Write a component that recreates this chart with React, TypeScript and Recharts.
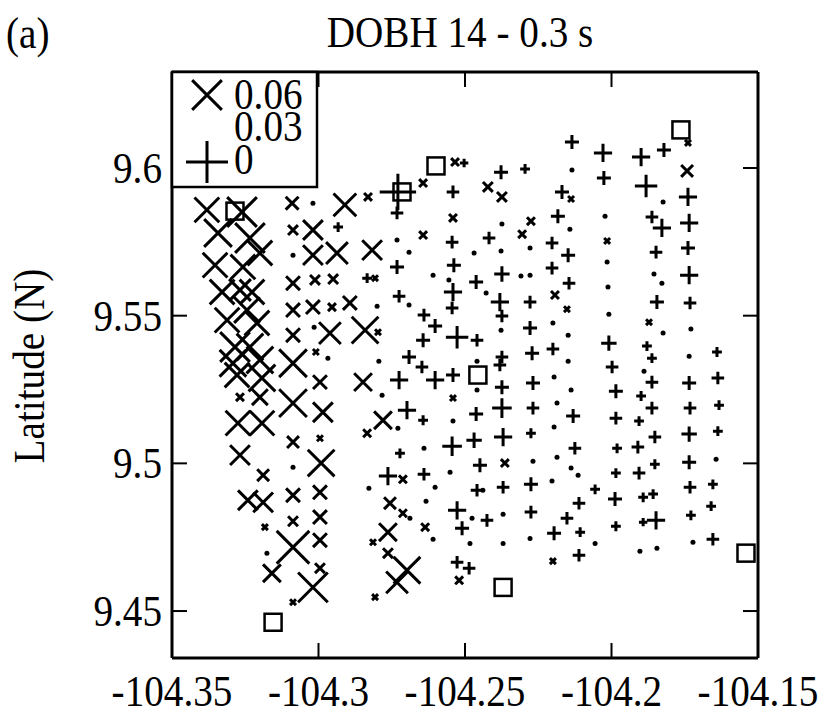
import { ScatterChart, Scatter, XAxis, YAxis } from "recharts";

document.body.style.margin = "0";

// [longitude, latitude, anomaly] ; anomaly 0.03 is the zero-size level
type Pt = [number, number, number];

const lonTicks = [-104.35, -104.3, -104.25, -104.2, -104.15];
const latTicks = [9.45, 9.5, 9.55, 9.6];
const legendValues = [0.06, 0.03, 0];

const lineA: Pt[] = [
  [-104.3381, 9.5858, 0.055], [-104.3261, 9.5851, 0.06], [-104.3343, 9.578, 0.058],
  [-104.3234, 9.5763, 0.06], [-104.3353, 9.5671, 0.055], [-104.3258, 9.5665, 0.055],
  [-104.32, 9.5712, 0.055], [-104.3329, 9.558, 0.055], [-104.3268, 9.5587, 0.052],
  [-104.3227, 9.558, 0.055], [-104.3312, 9.5485, 0.055], [-104.3244, 9.5519, 0.056],
  [-104.321, 9.5475, 0.055], [-104.3285, 9.5394, 0.06], [-104.3234, 9.5394, 0.057],
  [-104.3292, 9.5339, 0.057], [-104.32, 9.535, 0.057], [-104.3278, 9.5299, 0.055],
  [-104.3193, 9.5289, 0.057], [-104.3268, 9.5224, 0.038], [-104.32, 9.5224, 0.046],
  [-104.3275, 9.5136, 0.055], [-104.3193, 9.5136, 0.055], [-104.3268, 9.5028, 0.05],
  [-104.3189, 9.496, 0.042], [-104.3241, 9.4875, 0.05], [-104.3189, 9.4868, 0.05],
  [-104.3183, 9.4784, 0.036], [-104.3176, 9.4696, 0.031], [-104.3159, 9.4628, 0.048],
];

const lineB: Pt[] = [
  [-104.309, 9.5881, 0.043], [-104.3087, 9.579, 0.04], [-104.3087, 9.5705, 0.03],
  [-104.3087, 9.561, 0.044], [-104.3087, 9.5519, 0.044], [-104.3087, 9.5434, 0.044],
  [-104.3087, 9.5339, 0.058], [-104.3087, 9.5204, 0.058], [-104.3087, 9.5072, 0.042],
  [-104.3087, 9.4987, 0.031], [-104.3087, 9.4892, 0.044], [-104.3087, 9.4804, 0.04],
  [-104.3087, 9.4716, 0.063], [-104.3087, 9.453, 0.036],
];

const lineC: Pt[] = [
  [-104.3019, 9.5881, 0.03], [-104.3019, 9.579, 0.05], [-104.3019, 9.5705, 0.05],
  [-104.3012, 9.5621, 0.04], [-104.3019, 9.5529, 0.044], [-104.3015, 9.5461, 0.031],
  [-104.3009, 9.5377, 0.036], [-104.2995, 9.5275, 0.044], [-104.2985, 9.5173, 0.05],
  [-104.2995, 9.5085, 0.036], [-104.2991, 9.5001, 0.057], [-104.2995, 9.4902, 0.044],
  [-104.2995, 9.4818, 0.044], [-104.2995, 9.474, 0.044], [-104.2995, 9.4645, 0.04],
  [-104.3019, 9.458, 0.06],
];

const lineD: Pt[] = [
  [-104.291, 9.5875, 0.053], [-104.2933, 9.58, 0.023], [-104.2937, 9.5712, 0.052],
  [-104.295, 9.5624, 0.04], [-104.2954, 9.5529, 0.038], [-104.2893, 9.5543, 0.044],
  [-104.2961, 9.5441, 0.052], [-104.2968, 9.5356, 0.03],
];

const lineE: Pt[] = [
  [-104.2831, 9.5902, 0.038], [-104.2817, 9.5722, 0.05], [-104.2834, 9.5627, 0.023],
  [-104.2807, 9.5627, 0.036], [-104.28, 9.5532, 0.03], [-104.2841, 9.5451, 0.057],
  [-104.2797, 9.5444, 0.036], [-104.2794, 9.5346, 0.03], [-104.2848, 9.5275, 0.048],
  [-104.2783, 9.5231, 0.03], [-104.278, 9.5146, 0.048], [-104.2834, 9.5102, 0.038],
  [-104.2828, 9.4916, 0.03], [-104.2814, 9.4733, 0.036], [-104.2807, 9.4547, 0.036],
];

const lineF: Pt[] = [
  [-104.2729, 9.5919, 0.004], [-104.2732, 9.5848, 0.021], [-104.2732, 9.5756, 0.03],
  [-104.2691, 9.5715, 0.03], [-104.2732, 9.5665, 0.02], [-104.2725, 9.5566, 0.021],
  [-104.2691, 9.5536, 0.03], [-104.2691, 9.536, 0.02], [-104.2725, 9.5282, 0.017],
  [-104.2698, 9.518, 0.017], [-104.2729, 9.5119, 0.03], [-104.2722, 9.5034, 0.023],
  [-104.2763, 9.4957, 0.017], [-104.2712, 9.4946, 0.038], [-104.2756, 9.4865, 0.042],
  [-104.2712, 9.4831, 0.038], [-104.2688, 9.4814, 0.03], [-104.2763, 9.4767, 0.048],
  [-104.2763, 9.4696, 0.04], [-104.2698, 9.4638, 0.057], [-104.2732, 9.4597, 0.052],
];

const lineG: Pt[] = [
  [-104.2643, 9.5949, 0.038], [-104.2643, 9.5773, 0.038], [-104.2609, 9.5637, 0.03],
  [-104.264, 9.5502, 0.021], [-104.2602, 9.5465, 0.02], [-104.2643, 9.5417, 0.02],
  [-104.2647, 9.5326, 0.021], [-104.2602, 9.5282, 0.017], [-104.2643, 9.5146, 0.023],
  [-104.264, 9.5051, 0.03], [-104.264, 9.4963, 0.021], [-104.2602, 9.4919, 0.03],
  [-104.2633, 9.4872, 0.03], [-104.2636, 9.4784, 0.038], [-104.2609, 9.4743, 0.03],
];

const lineH: Pt[] = [
  [-104.2534, 9.602, 0.038], [-104.2503, 9.6017, 0.024], [-104.2541, 9.5919, 0.021],
  [-104.2541, 9.5831, 0.038], [-104.2544, 9.5749, 0.021], [-104.2538, 9.5671, 0.02],
  [-104.2555, 9.5621, 0.03], [-104.2541, 9.558, 0.017], [-104.2544, 9.5526, 0.021],
  [-104.2527, 9.5427, 0.014], [-104.2541, 9.5299, 0.02], [-104.2541, 9.5221, 0.036],
  [-104.2541, 9.5143, 0.03], [-104.2544, 9.5058, 0.016], [-104.2551, 9.497, 0.03],
  [-104.2527, 9.4841, 0.017], [-104.251, 9.478, 0.02], [-104.2483, 9.4729, 0.031],
  [-104.2527, 9.4665, 0.021], [-104.2486, 9.4645, 0.021], [-104.252, 9.4604, 0.038],
];

const lineI: Pt[] = [
  [-104.2422, 9.5936, 0.04], [-104.2418, 9.5763, 0.021], [-104.2469, 9.5712, 0.03],
  [-104.2462, 9.5614, 0.02], [-104.2428, 9.5577, 0.03], [-104.2459, 9.5417, 0.021],
  [-104.2459, 9.5346, 0.03], [-104.2459, 9.5248, 0.03], [-104.2462, 9.5167, 0.02],
  [-104.2469, 9.5078, 0.019], [-104.2449, 9.4994, 0.02], [-104.2459, 9.4909, 0.021],
  [-104.2439, 9.4909, 0.03], [-104.2476, 9.4814, 0.03], [-104.2425, 9.4807, 0.021],
];

const lineJ: Pt[] = [
  [-104.2377, 9.5986, 0.02], [-104.2374, 9.5902, 0.04], [-104.2374, 9.581, 0.03],
  [-104.2377, 9.5719, 0.03], [-104.2374, 9.5641, 0.019], [-104.2381, 9.5546, 0.017],
  [-104.2374, 9.5499, 0.021], [-104.2377, 9.5451, 0.03], [-104.2374, 9.536, 0.021],
  [-104.2381, 9.5333, 0.021], [-104.2374, 9.5258, 0.02], [-104.2374, 9.5187, 0.016],
  [-104.237, 9.5089, 0.017], [-104.2364, 9.5001, 0.038], [-104.237, 9.4919, 0.021],
  [-104.237, 9.4828, 0.03], [-104.237, 9.4729, 0.03],
];

const lineK: Pt[] = [
  [-104.2295, 9.5997, 0.023], [-104.2275, 9.582, 0.038], [-104.2305, 9.5776, 0.038],
  [-104.2278, 9.5729, 0.03], [-104.2309, 9.5634, 0.03], [-104.2278, 9.5637, 0.03],
  [-104.2278, 9.5546, 0.021], [-104.2278, 9.5458, 0.02], [-104.2271, 9.5373, 0.02],
  [-104.2268, 9.5272, 0.02], [-104.2268, 9.5187, 0.021], [-104.2275, 9.5102, 0.023],
  [-104.2268, 9.5007, 0.03], [-104.2275, 9.4929, 0.02], [-104.2275, 9.4835, 0.021],
  [-104.2278, 9.4746, 0.03],
];

const lineL: Pt[] = [
  [-104.2135, 9.6088, 0.02], [-104.2135, 9.5993, 0.03], [-104.2169, 9.5919, 0.02],
  [-104.2138, 9.5895, 0.036], [-104.2183, 9.5837, 0.02], [-104.2142, 9.5793, 0.03],
  [-104.2203, 9.5746, 0.021], [-104.2148, 9.5705, 0.02], [-104.2203, 9.5661, 0.021],
  [-104.2145, 9.561, 0.021], [-104.2193, 9.557, 0.038], [-104.2152, 9.5522, 0.036],
  [-104.22, 9.5475, 0.03], [-104.2148, 9.5434, 0.03], [-104.22, 9.5387, 0.021],
  [-104.2148, 9.5346, 0.03], [-104.2196, 9.5292, 0.03], [-104.2138, 9.5248, 0.03],
  [-104.2186, 9.5204, 0.03], [-104.2131, 9.516, 0.02], [-104.2196, 9.5123, 0.03],
  [-104.2125, 9.5051, 0.021], [-104.2186, 9.5021, 0.03], [-104.2138, 9.4984, 0.03],
  [-104.2114, 9.496, 0.03], [-104.2203, 9.494, 0.031], [-104.2111, 9.4865, 0.021],
  [-104.2152, 9.4814, 0.021], [-104.2196, 9.4763, 0.02], [-104.2107, 9.4767, 0.023],
  [-104.22, 9.4669, 0.036], [-104.2111, 9.4689, 0.021],
];

const lineM: Pt[] = [
  [-104.2029, 9.6051, 0.017], [-104.2026, 9.5966, 0.02], [-104.2022, 9.5837, 0.03],
  [-104.2015, 9.5753, 0.036], [-104.2015, 9.5682, 0.03], [-104.2012, 9.5597, 0.03],
  [-104.2009, 9.5505, 0.03], [-104.2009, 9.5407, 0.019], [-104.1998, 9.5326, 0.021],
  [-104.1985, 9.5244, 0.02], [-104.1985, 9.5153, 0.021], [-104.1981, 9.5051, 0.023],
  [-104.1985, 9.4967, 0.023], [-104.2056, 9.4912, 0.023], [-104.1988, 9.4879, 0.02],
  [-104.1985, 9.4787, 0.023], [-104.2056, 9.4729, 0.03],
];

const lineN: Pt[] = [
  [-104.1899, 9.6037, 0.017], [-104.1821, 9.6061, 0.02], [-104.1882, 9.5939, 0.014],
  [-104.1824, 9.5885, 0.03], [-104.1862, 9.5834, 0.021], [-104.1828, 9.5797, 0.017],
  [-104.1848, 9.5715, 0.021], [-104.1855, 9.5641, 0.03], [-104.1828, 9.561, 0.03],
  [-104.1845, 9.5546, 0.02], [-104.1872, 9.5478, 0.036], [-104.1824, 9.5441, 0.03],
  [-104.1879, 9.5397, 0.023], [-104.1862, 9.5356, 0.023], [-104.1889, 9.5312, 0.03],
  [-104.1862, 9.5275, 0.021], [-104.1899, 9.5228, 0.023], [-104.1862, 9.5187, 0.021],
  [-104.1906, 9.5143, 0.023], [-104.1852, 9.5089, 0.021], [-104.191, 9.5055, 0.021],
  [-104.1852, 9.4997, 0.023], [-104.1906, 9.4967, 0.021], [-104.1858, 9.4896, 0.023],
  [-104.1892, 9.4885, 0.023], [-104.1848, 9.4807, 0.017], [-104.1892, 9.4801, 0.024],
  [-104.1903, 9.4702, 0.03], [-104.1845, 9.4713, 0.03],
];

const lineO: Pt[] = [
  [-104.1739, 9.6085, 0.036], [-104.1742, 9.599, 0.042], [-104.1739, 9.5902, 0.017],
  [-104.1735, 9.5814, 0.017], [-104.1739, 9.5729, 0.02], [-104.1735, 9.5637, 0.017],
  [-104.1732, 9.5543, 0.021], [-104.1729, 9.5455, 0.03], [-104.1735, 9.5363, 0.03],
  [-104.1735, 9.5272, 0.02], [-104.1732, 9.5187, 0.021], [-104.1735, 9.5099, 0.019],
  [-104.1735, 9.5004, 0.02], [-104.1732, 9.4919, 0.021], [-104.1729, 9.4824, 0.023],
  [-104.1722, 9.4733, 0.03],
];

const lineP: Pt[] = [
  [-104.164, 9.5377, 0.023], [-104.1637, 9.5289, 0.021], [-104.1633, 9.5197, 0.023],
  [-104.1637, 9.5109, 0.023], [-104.1643, 9.5014, 0.03], [-104.1654, 9.4929, 0.023],
  [-104.166, 9.4855, 0.023], [-104.1654, 9.4743, 0.021],
];

// stations (open squares)
const stationLon = [-104.3285, -104.2715, -104.2599, -104.2456, -104.1763, -104.3155, -104.237, -104.1541];
const stationLat = [9.5854, 9.5919, 9.6007, 9.5299, 9.6129, 9.4462, 9.458, 9.4696];

const points = [
  ...lineA, ...lineB, ...lineC, ...lineD, ...lineE, ...lineF, ...lineG, ...lineH,
  ...lineI, ...lineJ, ...lineK, ...lineL, ...lineM, ...lineN, ...lineO, ...lineP,
].map(([lon, lat, val]) => ({ lon, lat, val }));

const stations = stationLon.map((lon, i) => ({ lon, lat: stationLat[i] }));

const FONT = '"Liberation Serif", "Times New Roman", serif';
const REF = 0.03;
const ARM = 1400; // px of arm length per unit of |val - REF|
const SW = 3;

const markerPath = (cx: number, cy: number, val: number) => {
  const d = val - REF;
  const len = Math.abs(d) * ARM;
  if (d > 0) {
    const h = len / 2 / Math.SQRT2;
    return `M${cx - h},${cy - h}L${cx + h},${cy + h}M${cx - h},${cy + h}L${cx + h},${cy - h}`;
  }
  const h = len / 2;
  return `M${cx - h},${cy}L${cx + h},${cy}M${cx},${cy - h}L${cx},${cy + h}`;
};

const Marker = (props: any) => {
  const { cx, cy, payload } = props;
  if (Math.abs(payload.val - REF) * ARM < 5) {
    return <circle cx={cx} cy={cy} r={2.5} fill="#000" />;
  }
  return <path d={markerPath(cx, cy, payload.val)} stroke="#000" strokeWidth={SW} fill="none" />;
};

const Station = (props: any) => {
  const { cx, cy } = props;
  return <rect x={cx - 8.5} y={cy - 8.5} width={17} height={17} fill="none" stroke="#000" strokeWidth={2.5} />;
};

// the figure's serif type is a little taller than it is wide
const Label = ({ x, y, anchor = "start", rotate = 0, children }: any) => (
  <text
    x={0} y={0} textAnchor={anchor} fontFamily={FONT} fontSize={40} fill="#000"
    transform={`translate(${x} ${y}) rotate(${rotate}) scale(0.98 1.1)`}
  >
    {children}
  </text>
);

const TICK = 15;

const BottomTick = ({ x, y, payload }: any) => (
  <g>
    <line x1={x} x2={x} y1={y} y2={y - TICK} stroke="#000" strokeWidth={2} />
    <Label x={x} y={y + 48} anchor="middle">{String(payload.value)}</Label>
  </g>
);
const TopTick = ({ x, y }: any) => (
  <line x1={x} x2={x} y1={y} y2={y + TICK} stroke="#000" strokeWidth={2} />
);
const LeftTick = ({ x, y, payload }: any) => (
  <g>
    <line x1={x} x2={x + TICK} y1={y} y2={y} stroke="#000" strokeWidth={2} />
    <Label x={x - 10} y={y + 15} anchor="end">{String(payload.value)}</Label>
  </g>
);
const RightTick = ({ x, y }: any) => (
  <line x1={x} x2={x - TICK} y1={y} y2={y} stroke="#000" strokeWidth={2} />
);

export default function App() {
  const axisLine = { stroke: "#000", strokeWidth: 3 };
  return (
    <div style={{ position: "relative", width: 831, height: 715, background: "#fff" }}>
      <ScatterChart width={831} height={715} margin={{ top: 62, right: 63, bottom: 7, left: 72 }}>
        <XAxis
          type="number" dataKey="lon" domain={[-104.35, -104.15]} ticks={lonTicks}
          allowDataOverflow interval={0} height={50} tickSize={0} tickMargin={0}
          tickLine={false} axisLine={axisLine} tick={(p: any) => <BottomTick {...p} />}
        />
        <XAxis
          xAxisId="top" orientation="top" type="number" dataKey="lon" domain={[-104.35, -104.15]}
          ticks={lonTicks} allowDataOverflow interval={0} height={10} tickSize={0} tickMargin={0}
          tickLine={false} axisLine={axisLine} tick={(p: any) => <TopTick {...p} />}
        />
        <YAxis
          type="number" dataKey="lat" domain={[9.4341, 9.6325]} ticks={latTicks}
          allowDataOverflow interval={0} width={100} tickSize={0} tickMargin={0}
          tickLine={false} axisLine={axisLine} tick={(p: any) => <LeftTick {...p} />}
        />
        <YAxis
          yAxisId="right" orientation="right" type="number" dataKey="lat" domain={[9.4341, 9.6325]}
          ticks={latTicks} allowDataOverflow interval={0} width={10} tickSize={0} tickMargin={0}
          tickLine={false} axisLine={axisLine} tick={(p: any) => <RightTick {...p} />}
        />
        <Scatter data={points} shape={Marker} isAnimationActive={false} />
        <Scatter data={stations} xAxisId="top" yAxisId="right" shape={Station} isAnimationActive={false} />
      </ScatterChart>

      <svg width={831} height={715} style={{ position: "absolute", left: 0, top: 0, pointerEvents: "none" }}>
        <Label x={6} y={48}>(a)</Label>
        <Label x={460} y={47} anchor="middle">DOBH 14 - 0.3 s</Label>
        <Label x={44} y={366} anchor="middle" rotate={-90}>Latitude (N)</Label>
        {/* legend */}
        <rect x={172} y={72} width={145} height={115} fill="#fff" stroke="#000" strokeWidth={2.5} />
        <path d={markerPath(207, 95, legendValues[0])} stroke="#000" strokeWidth={SW} fill="none" />
        <path d={markerPath(207, 162, legendValues[2])} stroke="#000" strokeWidth={SW} fill="none" />
        <Label x={234} y={109}>{legendValues[0].toFixed(2)}</Label>
        <Label x={234} y={141}>{legendValues[1].toFixed(2)}</Label>
        <Label x={234} y={174}>{String(legendValues[2])}</Label>
      </svg>
    </div>
  );
}
